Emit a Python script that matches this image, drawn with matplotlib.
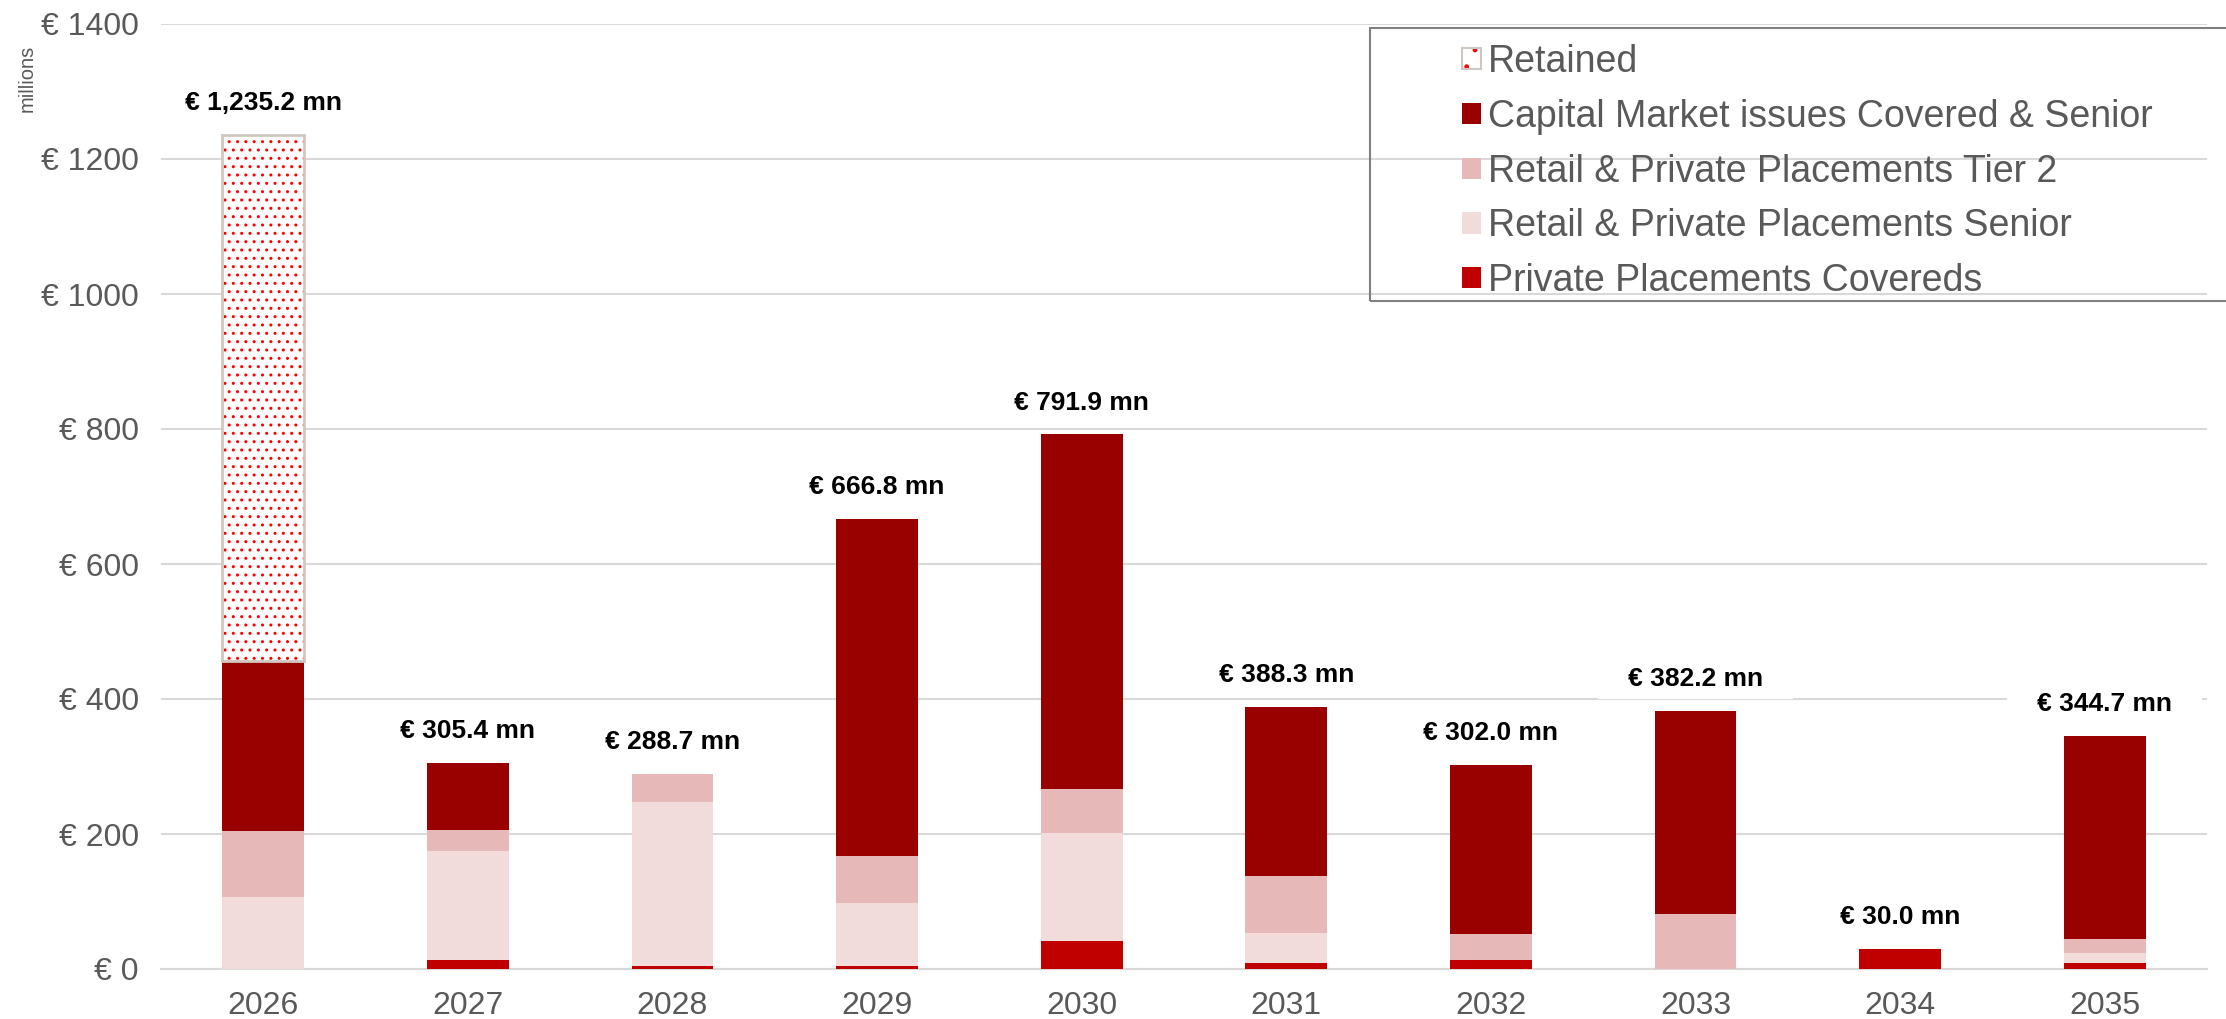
import matplotlib
matplotlib.use("Agg")
import matplotlib.pyplot as plt
from matplotlib.patches import Patch, Rectangle
from matplotlib.legend_handler import HandlerTuple
import numpy as np

plt.rcParams['font.family'] = ['Liberation Sans', 'DejaVu Sans']
plt.rcParams['hatch.linewidth'] = 1.0

years = ["2026", "2027", "2028", "2029", "2030", "2031", "2032", "2033", "2034", "2035"]
private_placements_covereds = [0.0, 14.0, 5.0, 5.0, 42.0, 9.5, 13.0, 0.0, 30.0, 9.5]
retail_pp_senior = [107.0, 161.0, 243.0, 93.0, 160.0, 44.5, 0.0, 0.0, 0.0, 14.5]
retail_pp_tier2 = [98.0, 30.5, 40.7, 69.0, 65.0, 84.0, 39.0, 81.5, 0.0, 20.0]
capital_market = [251.0, 99.9, 0.0, 499.8, 524.9, 250.3, 250.0, 300.7, 0.0, 300.7]
retained = [779.2, 0.0, 0.0, 0.0, 0.0, 0.0, 0.0, 0.0, 0.0, 0.0]
totals = [1235.2, 305.4, 288.7, 666.8, 791.9, 388.3, 302.0, 382.2, 30.0, 344.7]
y_ticks = [0, 200, 400, 600, 800, 1000, 1200, 1400]

c_ppc = "#C00000"
c_sen = "#F2DCDB"
c_t2 = "#E6B8B7"
c_cap = "#990000"
grid_c = "#D9D9D9"
txt_c = "#595959"
ret_edge = "#D0C8C0"

W, H = 2226, 1019
fig = plt.figure(figsize=(W / 100, H / 100), dpi=100)
left, right, bottom, top = 161, 2207, 969, 24
ax = fig.add_axes([left / W, 1 - bottom / H, (right - left) / W, (bottom - top) / H])

x = np.arange(len(years))
bw = 0.40
base = np.zeros(len(years))
for vals, col in [(private_placements_covereds, c_ppc), (retail_pp_senior, c_sen),
                  (retail_pp_tier2, c_t2), (capital_market, c_cap)]:
    v = np.array(vals)
    ax.bar(x, v, bw, bottom=base, color=col, linewidth=0, zorder=3)
    base = base + v

r = np.array(retained)
m = r > 0
ax.bar(x[m], r[m], bw, bottom=base[m], facecolor="white", edgecolor="red", hatch="..",
       linewidth=0, zorder=3)
ax.bar(x[m], r[m], bw, bottom=base[m], fill=False, edgecolor=ret_edge, linewidth=2, zorder=4)

for xi, t in zip(x, totals):
    ax.annotate(f"   € {t:,.1f} mn   ", (xi, t), xytext=(0, 23), textcoords="offset points",
                ha="center", va="center", fontsize=19, fontweight="bold", color="black",
                bbox=dict(boxstyle="square,pad=0.3", facecolor="white", edgecolor="none"),
                zorder=5)

ax.set_xlim(-0.5, len(years) - 0.5)
ax.set_ylim(0, 1400)
ax.set_yticks(y_ticks)
ax.set_yticklabels([f"€ {v}" for v in y_ticks])
ax.set_xticks(x)
ax.set_xticklabels(years)
ax.tick_params(axis="y", length=0, pad=16, labelsize=23, labelcolor=txt_c)
ax.tick_params(axis="x", length=0, pad=16, labelsize=23, labelcolor=txt_c)
ax.grid(axis="y", color=grid_c, linewidth=1.5, zorder=0)
ax.set_axisbelow(True)
for s in ["top", "right", "left"]:
    ax.spines[s].set_visible(False)
ax.spines["bottom"].set_color(grid_c)
ax.spines["bottom"].set_linewidth(1.5)

fig.text(27 / W, 1 - 78 / H, "millions", rotation=90, ha="center", va="center",
         fontsize=14.5, color=txt_c)

# legend frame
fig.patches.append(Rectangle((1370 / W, 1 - 301 / H), (2260 - 1370) / W, (301 - 28) / H,
                             transform=fig.transFigure, fill=False, edgecolor="#7F7F7F",
                             linewidth=1.5, zorder=10))
ret_handle = (Patch(facecolor="white", edgecolor="red", hatch=".", linewidth=0),
              Patch(fill=False, edgecolor=ret_edge, linewidth=1.5))
handles = [
    ret_handle,
    Patch(facecolor=c_cap),
    Patch(facecolor=c_t2),
    Patch(facecolor=c_sen),
    Patch(facecolor=c_ppc),
]
labels = ["Retained", "Capital Market issues Covered & Senior",
          "Retail & Private Placements Tier 2", "Retail & Private Placements Senior",
          "Private Placements Covereds"]
leg = fig.legend(handles=handles, labels=labels, loc="upper left",
                 bbox_to_anchor=(1447 / W, 1 - 29 / H),
                 handler_map={tuple: HandlerTuple(ndivide=1, pad=0)},
                 frameon=False, fontsize=27, handlelength=0.5, handleheight=0.5,
                 handletextpad=0.2, labelspacing=0.5, labelcolor=txt_c, borderaxespad=0)

fig.savefig("out.png", dpi=100, facecolor="white")
